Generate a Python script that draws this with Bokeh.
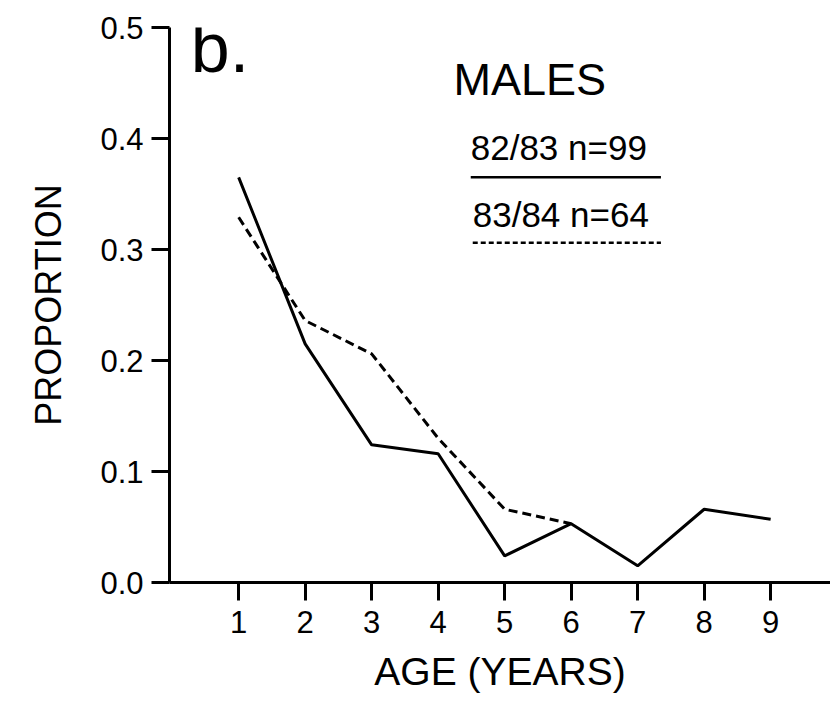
from bokeh.plotting import figure
from bokeh.models import Range1d, FixedTicker, PrintfTickFormatter, Label
from bokeh.embed import file_html
from bokeh.resources import INLINE

# Data
age = [1, 2, 3, 4, 5, 6, 7, 8, 9]
males_8283 = [0.365, 0.215, 0.124, 0.116, 0.024, 0.053, 0.015, 0.066, 0.057]
age_8384 = [1, 2, 3, 4, 5, 6]
males_8384 = [0.329, 0.236, 0.206, 0.130, 0.066, 0.053]

x_ticks = [1, 2, 3, 4, 5, 6, 7, 8, 9]
y_ticks = [0.0, 0.1, 0.2, 0.3, 0.4, 0.5]

panel_label = "b."
legend_title = "MALES"
legend_labels = ["82/83 n=99", "83/84 n=64"]

FONT = "Liberation Sans"

p = figure(width=830, height=701, output_backend="svg", toolbar_location=None,
           x_range=Range1d(-0.04, 9.9), y_range=Range1d(0.0, 0.5),
           min_border_left=169, min_border_right=0, min_border_top=27,
           min_border_bottom=119)
p.outline_line_color = None
p.xgrid.visible = False
p.ygrid.visible = False
p.background_fill_color = "white"
p.border_fill_color = "white"

for ax in (p.xaxis[0], p.yaxis[0]):
    ax.axis_line_width = 3
    ax.axis_line_color = "black"
    ax.major_tick_line_width = 3
    ax.major_tick_line_color = "black"
    ax.major_tick_in = 0
    ax.major_tick_out = 18
    ax.minor_tick_line_color = None
    ax.major_label_text_font = FONT
    ax.major_label_text_color = "black"
    ax.major_label_text_font_size = "31px"
    ax.axis_label_text_font = FONT
    ax.axis_label_text_font_style = "normal"
    ax.axis_label_text_color = "black"

p.xaxis.axis_label_text_font_size = "39px"
p.yaxis.axis_label_text_font_size = "36px"
p.xaxis.ticker = FixedTicker(ticks=x_ticks)
p.yaxis.ticker = FixedTicker(ticks=y_ticks)
p.yaxis.formatter = PrintfTickFormatter(format="%.1f")
p.xaxis.major_label_standoff = 10
p.yaxis.major_label_standoff = 8
p.xaxis.axis_label = "AGE (YEARS)"
p.yaxis.axis_label = "PROPORTION"
p.xaxis.axis_label_standoff = 14
p.yaxis.axis_label_standoff = 28

p.line(age, males_8283, line_color="black", line_width=3)
p.line(age_8384, males_8384, line_color="black", line_width=3, line_dash="9 5")

# annotations (legend) placed in data coordinates
p.add_layout(Label(x=0.28, y=0.446, text=panel_label, text_font=FONT,
                   text_font_size="70px", text_color="black"))
p.add_layout(Label(x=4.23, y=0.430, text=legend_title, text_font=FONT,
                   text_font_size="45px", text_color="black"))
p.add_layout(Label(x=4.49, y=0.374, text=legend_labels[0], text_font=FONT,
                   text_font_size="35px", text_color="black"))
p.add_layout(Label(x=4.52, y=0.314, text=legend_labels[1], text_font=FONT,
                   text_font_size="35px", text_color="black"))
p.line([4.49, 7.35], [0.365, 0.365], line_color="black", line_width=2.5)
p.line([4.52, 7.35], [0.306, 0.306], line_color="black", line_width=2.5,
       line_dash="5 3")

open("out.html", "w").write(file_html(p, INLINE))
